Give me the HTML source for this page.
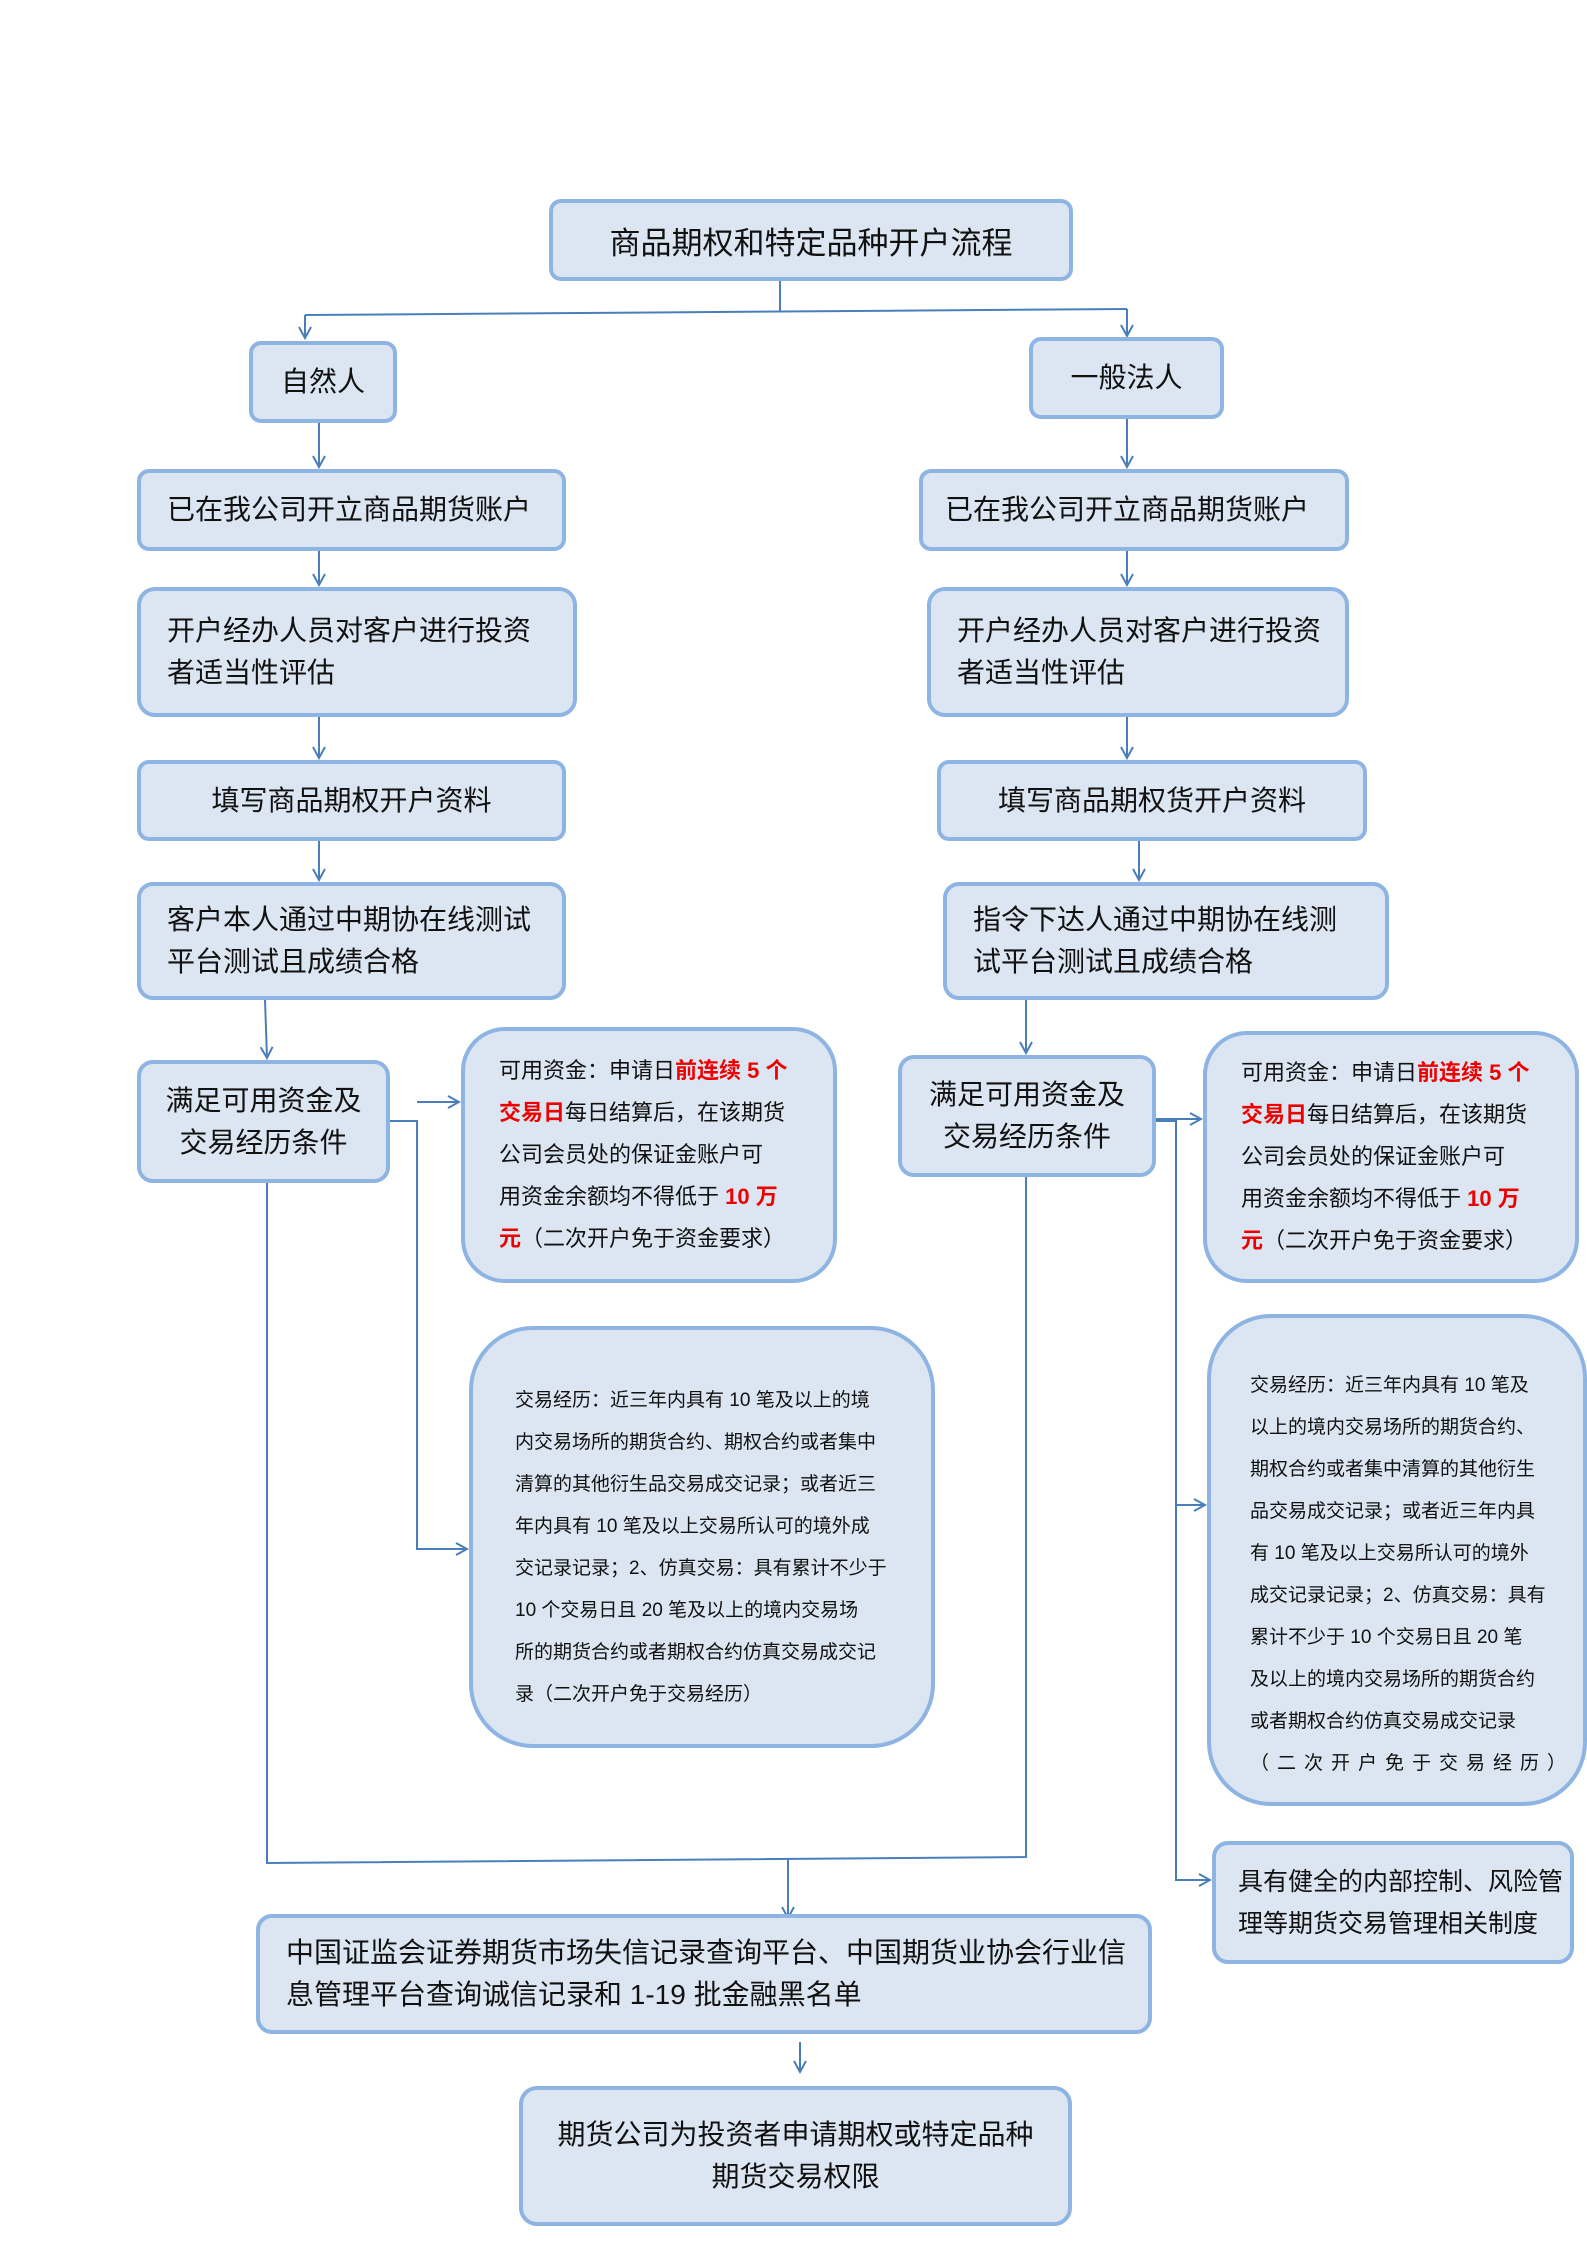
<!DOCTYPE html>
<html><head><meta charset="utf-8"><style>
body{margin:0;width:1587px;height:2245px;background:#fff;position:relative;overflow:hidden;font-family:"Liberation Sans","Noto Sans CJK SC",sans-serif;color:#111}
.b{position:absolute;box-sizing:border-box;background:#dce6f2;border:4px solid #8eb4e3;border-radius:12px;display:flex;flex-direction:column;justify-content:center;white-space:nowrap}
.c{align-items:center}
.f29{font-size:28px;line-height:42px}
.m{font-size:22px;line-height:42px;border-radius:44px}
.e{font-size:19px;line-height:42px;border-radius:64px}
.r{color:#e00;font-weight:bold}
svg{position:absolute;left:0;top:0}
</style></head><body>
<svg width="1587" height="2245" fill="none" stroke="#4a7ebb" stroke-width="2">
<defs><marker id="a" markerWidth="14" markerHeight="14" refX="12" refY="7" orient="auto" markerUnits="userSpaceOnUse"><path d="M1,1 L12,7 L1,13" stroke="#4a7ebb" stroke-width="2" fill="none"/></marker></defs>
<path d="M780,281 V311"/>
<path d="M305,315 L1127,309"/>
<path d="M305,315 V338" marker-end="url(#a)"/>
<path d="M1127,309 V336" marker-end="url(#a)"/>
<path d="M319,423 V467" marker-end="url(#a)"/>
<path d="M1127,419 V467" marker-end="url(#a)"/>
<path d="M319,551 V585" marker-end="url(#a)"/>
<path d="M1127,551 V585" marker-end="url(#a)"/>
<path d="M319,717 V758" marker-end="url(#a)"/>
<path d="M1127,717 V758" marker-end="url(#a)"/>
<path d="M319,841 V880" marker-end="url(#a)"/>
<path d="M1139,841 V880" marker-end="url(#a)"/>
<path d="M265,1000 L267,1058" marker-end="url(#a)"/>
<path d="M1026,1000 V1053" marker-end="url(#a)"/>
<path d="M390,1121 H417 V1549 H467" marker-end="url(#a)"/>
<path d="M417,1102 H459" marker-end="url(#a)"/>
<path d="M1156,1121 H1176 V1880 H1210" marker-end="url(#a)"/>
<path d="M1156,1119 H1201" marker-end="url(#a)"/>
<path d="M1176,1505 H1205" marker-end="url(#a)"/>
<path d="M267,1183 V1863 L1026,1857 V1177"/>
<path d="M788,1860 V1918" marker-end="url(#a)"/>
<path d="M800,2042 V2072" marker-end="url(#a)"/>
</svg>
<div class="b c" style="left:549px;top:199px;width:524px;height:82px;font-size:31px">商品期权和特定品种开户流程</div>
<div class="b c f29" style="left:249px;top:341px;width:148px;height:82px">自然人</div>
<div class="b c f29" style="left:1029px;top:337px;width:195px;height:82px">一般法人</div>
<div class="b f29" style="left:137px;top:469px;width:429px;height:82px;padding-left:26px">已在我公司开立商品期货账户</div>
<div class="b f29" style="left:919px;top:469px;width:430px;height:82px;padding-left:22px">已在我公司开立商品期货账户</div>
<div class="b f29" style="left:137px;top:587px;width:440px;height:130px;padding-left:26px;border-radius:18px"><div>开户经办人员对客户进行投资</div><div>者适当性评估</div></div>
<div class="b f29" style="left:927px;top:587px;width:422px;height:130px;padding-left:26px;border-radius:18px"><div>开户经办人员对客户进行投资</div><div>者适当性评估</div></div>
<div class="b c f29" style="left:137px;top:760px;width:429px;height:81px">填写商品期权开户资料</div>
<div class="b c f29" style="left:937px;top:760px;width:430px;height:81px">填写商品期权货开户资料</div>
<div class="b f29" style="left:137px;top:882px;width:429px;height:118px;padding-left:26px;border-radius:16px"><div>客户本人通过中期协在线测试</div><div>平台测试且成绩合格</div></div>
<div class="b f29" style="left:943px;top:882px;width:446px;height:118px;padding-left:26px;border-radius:16px"><div>指令下达人通过中期协在线测</div><div>试平台测试且成绩合格</div></div>
<div class="b c f29" style="left:137px;top:1060px;width:253px;height:123px;border-radius:16px"><div>满足可用资金及</div><div>交易经历条件</div></div>
<div class="b c f29" style="left:898px;top:1055px;width:258px;height:122px;border-radius:16px"><div>满足可用资金及</div><div>交易经历条件</div></div>
<div class="b m" style="left:461px;top:1027px;width:376px;height:256px;padding-left:34px"><div>可用资金：申请日<span class="r">前连续 5 个</span></div><div><span class="r">交易日</span>每日结算后，在该期货</div><div>公司会员处的保证金账户可</div><div>用资金余额均不得低于 <span class="r">10 万</span></div><div><span class="r">元</span>（二次开户免于资金要求）</div></div>
<div class="b m" style="left:1203px;top:1031px;width:376px;height:252px;padding-left:34px"><div>可用资金：申请日<span class="r">前连续 5 个</span></div><div><span class="r">交易日</span>每日结算后，在该期货</div><div>公司会员处的保证金账户可</div><div>用资金余额均不得低于 <span class="r">10 万</span></div><div><span class="r">元</span>（二次开户免于资金要求）</div></div>
<div class="b e" style="left:469px;top:1326px;width:466px;height:422px;padding-left:42px;padding-top:22px"><div>交易经历：近三年内具有 10 笔及以上的境</div><div>内交易场所的期货合约、期权合约或者集中</div><div>清算的其他衍生品交易成交记录；或者近三</div><div>年内具有 10 笔及以上交易所认可的境外成</div><div>交记录记录；2、仿真交易：具有累计不少于</div><div>10 个交易日且 20 笔及以上的境内交易场</div><div>所的期货合约或者期权合约仿真交易成交记</div><div>录（二次开户免于交易经历）</div></div>
<div class="b e" style="left:1207px;top:1314px;width:380px;height:492px;padding-left:39px;padding-top:30px"><div>交易经历：近三年内具有 10 笔及</div><div>以上的境内交易场所的期货合约、</div><div>期权合约或者集中清算的其他衍生</div><div>品交易成交记录；或者近三年内具</div><div>有 10 笔及以上交易所认可的境外</div><div>成交记录记录；2、仿真交易：具有</div><div>累计不少于 10 个交易日且 20 笔</div><div>及以上的境内交易场所的期货合约</div><div>或者期权合约仿真交易成交记录</div><div style="letter-spacing:8px">（二次开户免于交易经历）</div></div>
<div class="b f29" style="left:1212px;top:1841px;width:362px;height:123px;padding-left:22px;font-size:25px;border-radius:16px"><div>具有健全的内部控制、风险管</div><div>理等期货交易管理相关制度</div></div>
<div class="b f29" style="left:256px;top:1914px;width:896px;height:120px;padding-left:26px;border-radius:16px"><div>中国证监会证券期货市场失信记录查询平台、中国期货业协会行业信</div><div>息管理平台查询诚信记录和 1-19 批金融黑名单</div></div>
<div class="b c f29" style="left:519px;top:2086px;width:553px;height:140px;border-radius:18px"><div>期货公司为投资者申请期权或特定品种</div><div>期货交易权限</div></div>
</body></html>
